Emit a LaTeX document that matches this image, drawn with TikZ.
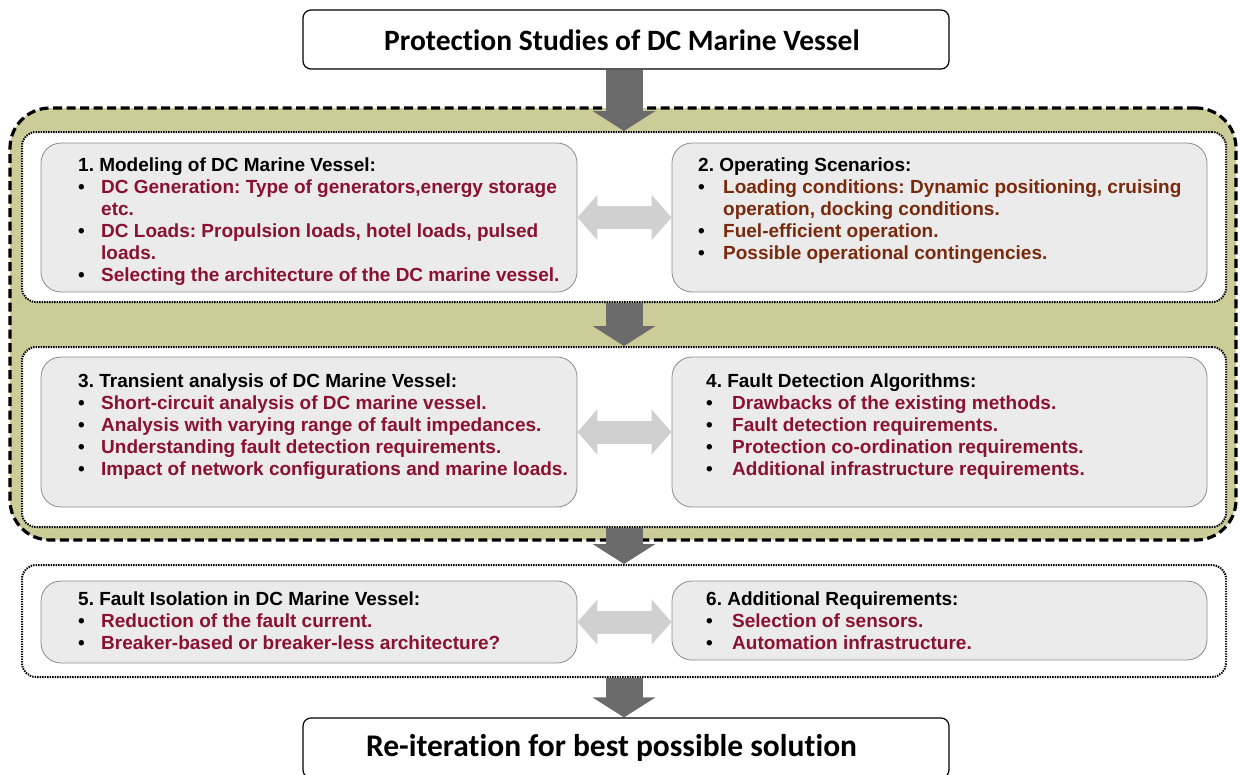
\documentclass[tikz,border=0pt]{standalone}
\usepackage{fontspec}
\setmainfont{Liberation Sans}
\newfontfamily\headfont[Ligatures=NoCommon]{Carlito}
\usetikzlibrary{arrows.meta}

\definecolor{olivefill}{HTML}{CCCC99}
\definecolor{cardfill}{HTML}{EBEBEB}
\definecolor{cardline}{HTML}{8C8C8C}
\definecolor{maroontxt}{HTML}{8B1131}
\definecolor{browntxt}{HTML}{7A2A0C}
\definecolor{flowgray}{HTML}{6B6B6B}
\definecolor{linkgray}{HTML}{D0D0D0}

% bullet line and continuation line
\newcommand\bul[3]{\makebox[#1][l]{\textbullet}\textcolor{#2}{#3}}
\newcommand\cont[3]{\hspace*{#1}\textcolor{#2}{#3}}

\tikzset{
  headbox/.style={draw, line width=1.2pt, rounded corners=8pt, fill=white, inner sep=0pt,
    font=\headfont\bfseries\fontsize{29.5}{34}\selectfont},
  outerband/.style={draw, line width=3.2pt, dash pattern=on 9pt off 4.5pt, fill=olivefill,
    rounded corners=40pt, inner sep=0pt},
  dotframe/.style={draw, line width=2pt, dash pattern=on 1.4pt off 1.1pt, fill=white,
    rounded corners=14pt, inner sep=0pt},
  card/.style={draw=cardline, line width=0.8pt, fill=cardfill, rounded corners=20pt, inner sep=0pt},
  cardtext/.style={anchor=north west, inner sep=0pt, align=left,
    font=\frenchspacing\bfseries\fontsize{19}{22}\selectfont},
  flow/.style={draw=flowgray, line width=37pt, -{Triangle[width=62pt, length=20pt]}},
  link/.style={draw=linkgray, line width=23pt,
    {Triangle[width=44pt, length=20pt]}-{Triangle[width=44pt, length=20pt]}},
}

\begin{document}
\begin{tikzpicture}[x=1pt, y=-1pt]
    \clip (0,0) rectangle (1240,774);

    % Title and final step
    \node[headbox, minimum width=646pt, minimum height=59pt] (top) at (626,39.5) {};
    \node[font=\headfont\bfseries\fontsize{29.5}{34}\selectfont] (toptxt) at (622,40) {Protection Studies of DC Marine Vessel};
    \node[headbox, minimum width=646pt, minimum height=60pt] (bottom) at (626,748) {};
    \node[font=\headfont\bfseries\fontsize{31.5}{36}\selectfont] (bottomtxt) at (611.5,748) {Re-iteration for best possible solution};

    % Olive band and dotted frames
    \node[outerband, minimum width=1226pt, minimum height=432pt] (band) at (623,324) {};
    \node[dotframe, minimum width=1204pt, minimum height=170pt] (frame1) at (624,217) {};
    \node[dotframe, minimum width=1204pt, minimum height=180pt] (frame2) at (624,437) {};
    \node[dotframe, minimum width=1204pt, minimum height=112pt] (frame3) at (624,621) {};

    % Grey cards
    \node[card, minimum width=536pt, minimum height=149pt] (m1) at (309,217.5) {};
    \node[card, minimum width=535pt, minimum height=149pt] (m2) at (939.5,217.5) {};
    \node[card, minimum width=536pt, minimum height=150pt] (m3) at (309,432) {};
    \node[card, minimum width=535pt, minimum height=150pt] (m4) at (939.5,432) {};
    \node[card, minimum width=536pt, minimum height=82pt] (m5) at (309,622) {};
    \node[card, minimum width=535pt, minimum height=79pt] (m6) at (939.5,620.5) {};

    % Flow arrows
    \draw[flow] (top.south -| frame1.north) -- (frame1.north);
    \draw[flow] (frame1.south) -- (frame2.north);
    \draw[flow] (frame2.south) -- (frame3.north);
    \draw[flow] (frame3.south) -- (frame3.south |- bottom.north);

    % Links between cards
    \draw[link] (m1.east) -- (m2.west);
    \draw[link] (m3.east) -- (m4.west);
    \draw[link] (m5.east) -- (m5.east -| m6.west);

    % Card texts
    \node[cardtext] (t1) at (78,158) {1. Modeling of DC Marine Vessel:\\
        \bul{23pt}{maroontxt}{DC Generation: Type of generators,energy storage}\\
        \cont{23pt}{maroontxt}{etc.}\\
        \bul{23pt}{maroontxt}{DC Loads: Propulsion loads, hotel loads, pulsed}\\
        \cont{23pt}{maroontxt}{loads.}\\
        \bul{23pt}{maroontxt}{Selecting the architecture of the DC marine vessel.}};
    \node[cardtext] (t2) at (698,158) {2. Operating Scenarios:\\
        \bul{25pt}{browntxt}{Loading conditions: Dynamic positioning, cruising}\\
        \cont{25pt}{browntxt}{operation, docking conditions.}\\
        \bul{25pt}{browntxt}{Fuel-efficient operation.}\\
        \bul{25pt}{browntxt}{Possible operational contingencies.}};
    \node[cardtext] (t3) at (78,374) {3. Transient analysis of DC Marine Vessel:\\
        \bul{23pt}{maroontxt}{Short-circuit analysis of DC marine vessel.}\\
        \bul{23pt}{maroontxt}{Analysis with varying range of fault impedances.}\\
        \bul{23pt}{maroontxt}{Understanding fault detection requirements.}\\
        \bul{23pt}{maroontxt}{Impact of network configurations and marine loads.}};
    \node[cardtext] (t4) at (706,374) {4. Fault Detection Algorithms:\\
        \bul{26pt}{maroontxt}{Drawbacks of the existing methods.}\\
        \bul{26pt}{maroontxt}{Fault detection requirements.}\\
        \bul{26pt}{maroontxt}{Protection co-ordination requirements.}\\
        \bul{26pt}{maroontxt}{Additional infrastructure requirements.}};
    \node[cardtext] (t5) at (78,592) {5. Fault Isolation in DC Marine Vessel:\\
        \bul{23pt}{maroontxt}{Reduction of the fault current.}\\
        \bul{23pt}{maroontxt}{Breaker-based or breaker-less architecture?}};
    \node[cardtext] (t6) at (706,592) {6. Additional Requirements:\\
        \bul{26pt}{maroontxt}{Selection of sensors.}\\
        \bul{26pt}{maroontxt}{Automation infrastructure.}};
\end{tikzpicture}
\end{document}
